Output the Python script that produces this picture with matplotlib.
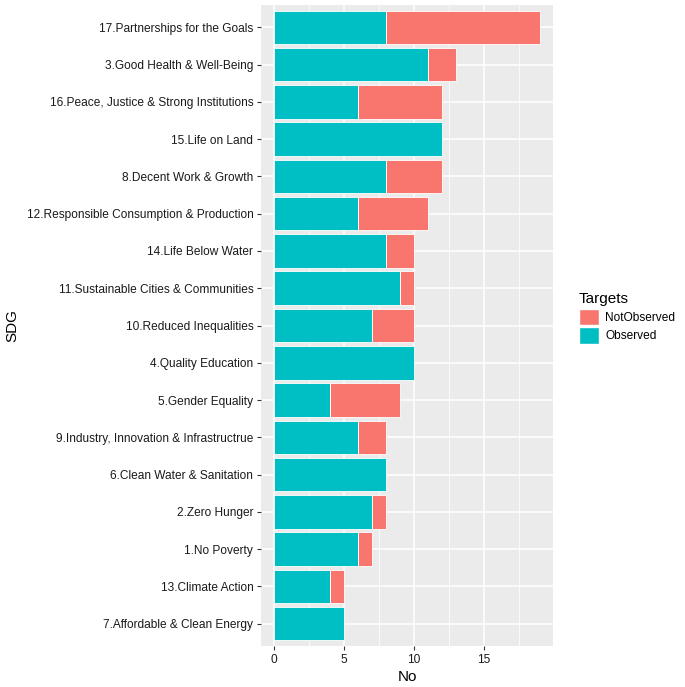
import matplotlib
matplotlib.use("Agg")
import matplotlib.pyplot as plt
from matplotlib.patches import Patch
import numpy as np

plt.rcParams['font.family'] = ['Liberation Sans', 'DejaVu Sans']

categories = [
    "17.Partnerships for the Goals",
    "3.Good Health & Well-Being",
    "16.Peace, Justice & Strong Institutions",
    "15.Life on Land",
    "8.Decent Work & Growth",
    "12.Responsible Consumption & Production",
    "14.Life Below Water",
    "11.Sustainable Cities & Communities",
    "10.Reduced Inequalities",
    "4.Quality Education",
    "5.Gender Equality",
    "9.Industry, Innovation & Infrastructrue",
    "6.Clean Water & Sanitation",
    "2.Zero Hunger",
    "1.No Poverty",
    "13.Climate Action",
    "7.Affordable & Clean Energy",
]
observed = [8, 11, 6, 12, 8, 6, 8, 9, 7, 10, 4, 6, 8, 7, 6, 4, 5]
not_observed = [11, 2, 6, 0, 4, 5, 2, 1, 3, 0, 5, 2, 0, 1, 1, 1, 0]
legend_labels = ["NotObserved", "Observed"]
x_ticks = [0, 5, 10, 15]

col_obs = "#00BFC4"
col_not = "#F8766D"

fig = plt.figure(figsize=(6.85, 6.87), dpi=100)
ax = fig.add_axes([261/685, 1-646/687, (553-261)/685, (646-5)/687])
ax.set_facecolor("#EBEBEB")

n = len(categories)
y = np.arange(n)[::-1]
obs = np.array(observed)
nob = np.array(not_observed)
ax.barh(y, obs, height=0.9, color=col_obs, edgecolor="white", linewidth=0.6, zorder=3)
mask = nob > 0
ax.barh(y[mask], nob[mask], left=obs[mask], height=0.9, color=col_not,
        edgecolor="white", linewidth=0.6, zorder=3)

total_max = (obs + nob).max()
ax.set_xlim(-0.05*total_max, total_max*1.05)
ax.set_ylim(-0.6, n - 1 + 0.6)
ax.set_yticks(y)
ax.set_yticklabels(categories)
ax.set_xticks(x_ticks)
ax.set_xticks([2.5, 7.5, 12.5, 17.5], minor=True)

ax.grid(True, which="major", color="white", linewidth=1.1, zorder=0)
ax.grid(True, which="minor", axis="x", color="white", linewidth=0.55, zorder=0)
ax.set_axisbelow(True)
for s in ax.spines.values():
    s.set_visible(False)
ax.tick_params(axis="both", which="major", length=3, width=0.8, color="#333333",
               labelsize=8.6, labelcolor="#1A1A1A", pad=2.5)
ax.tick_params(axis="both", which="minor", length=0)

ax.set_xlabel("No", fontsize=11, labelpad=3)
ax.set_ylabel("SDG", fontsize=11, labelpad=5)

handles = [Patch(facecolor=col_not, edgecolor="white"),
           Patch(facecolor=col_obs, edgecolor="white")]
leg = fig.legend(handles, legend_labels, title="Targets", loc="center left",
                 bbox_to_anchor=(568/685, 1-318/687), frameon=False, fontsize=8.6,
                 title_fontsize=11, handlelength=1.7, handleheight=1.7,
                 handletextpad=0.5, labelspacing=0.2)
leg._legend_box.align = "left"

fig.savefig("out.png", dpi=100)
